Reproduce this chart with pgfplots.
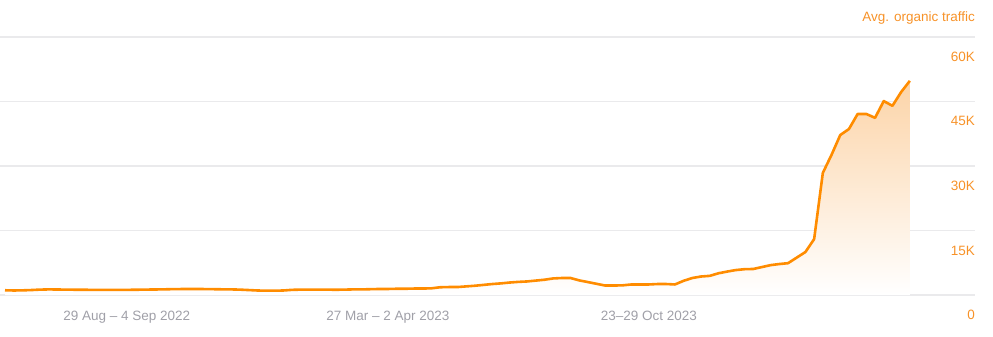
\documentclass[border=0pt]{standalone}
\usepackage{pgfplots}
\pgfplotsset{compat=1.18}
\usepackage{pgfplotstable}
\usepackage{fontspec}
\setmainfont{Liberation Sans}

\definecolor{trafficline}{RGB}{255,140,0}
\definecolor{trafficfill}{RGB}{252,212,168}
\definecolor{ticklabelgray}{RGB}{160,160,168}
\definecolor{ticklabelorange}{RGB}{247,146,40}
\definecolor{gridgray}{RGB}{234,234,236}

% weekly average organic traffic, week index from 23 May 2022
\pgfplotstableread{
w v
0 1100
1 1050
2 1080
3 1150
4 1250
5 1300
6 1280
7 1250
8 1230
9 1220
10 1200
11 1200
12 1200
13 1200
14 1200
15 1220
16 1250
17 1280
18 1300
19 1350
20 1380
21 1400
22 1400
23 1380
24 1350
25 1320
26 1300
27 1250
28 1150
29 1050
30 1000
31 1000
32 1050
33 1200
34 1250
35 1250
36 1250
37 1250
38 1220
39 1250
40 1300
41 1300
42 1350
43 1400
44 1400
45 1450
46 1450
47 1500
48 1500
49 1550
50 1800
51 1850
52 1850
53 2000
54 2150
55 2350
56 2550
57 2700
58 2900
59 3050
60 3150
61 3350
62 3550
63 3850
64 3950
65 3950
66 3400
67 3000
68 2600
69 2200
70 2200
71 2250
72 2450
73 2450
74 2450
75 2550
76 2550
77 2450
78 3300
79 3950
80 4300
81 4450
82 5050
83 5450
84 5800
85 6000
86 6050
87 6500
88 6950
89 7200
90 7400
91 8700
92 10000
93 13000
94 28400
95 32600
96 37200
97 38600
98 42100
99 42100
100 41200
101 45100
102 44000
103 47200
104 49800
}\traffic

\begin{document}
\begin{tikzpicture}
\useasboundingbox (0,0) rectangle (993bp,337bp);
\begin{axis}[
  at={(0bp,42bp)}, anchor=south west,
  scale only axis,
  width=975bp, height=258bp,
  xmin=-0.575, xmax=111.49,
  ymin=0, ymax=60000,
  scaled y ticks=false,
  axis line style={draw=none},
  tick style={draw=none},
  ymajorgrids,
  grid style={color=gridgray, line width=1.2bp},
  xtick={14,44,74},
  xticklabels={29 Aug – 4 Sep 2022, 27 Mar – 2 Apr 2023, 23–29 Oct 2023},
  xticklabel style={font=\fontsize{13.5bp}{16bp}\selectfont, text=ticklabelgray,
    anchor=base, inner sep=0pt, yshift=-25bp},
  ytick={0,15000,30000,45000,60000},
  yticklabels={0,15K,30K,45K,60K},
  yticklabel pos=right,
  yticklabel style={font=\fontsize{13.5bp}{16bp}\selectfont, text=ticklabelorange,
    anchor=base east, inner sep=0pt, yshift=-24.5bp},
  clip=false,
]
\addplot[draw=none, top color=trafficfill, bottom color=white] table[x=w, y=v] {\traffic} \closedcycle;
\addplot[trafficline, line width=2.6bp, line join=round] table[x=w, y=v] {\traffic};
\node[anchor=base east, inner sep=0pt, text=ticklabelorange,
  font=\fontsize{13.5bp}{16bp}\selectfont] at (rel axis cs:1,1) [yshift=15.5bp] {Avg. organic traffic};
\end{axis}
\end{tikzpicture}
\end{document}
